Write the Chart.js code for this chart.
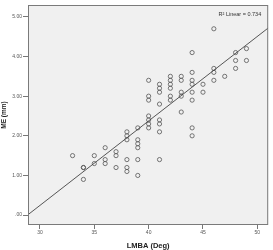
<!DOCTYPE html>
<html lang="en">
<head>
    <meta charset="UTF-8">
    <title>ME vs LMBA</title>
    <script src="https://cdn.jsdelivr.net/npm/chart.js"></script>
    <style>
        body {
            margin: 0;
            padding: 0;
            background: white;
        }

        .wrap {
            width: 273px;
            height: 250px;
        }
    </style>
</head>
<body>

    <div class="wrap">
        <canvas id="scatterChart"></canvas>
    </div>

    <script>
        // LMBA (Deg) for each case, with matching ME (mm)
        const lmba = [
            33,
            34, 34, 34,
            35, 35,
            36, 36, 36,
            37, 37, 37,
            38, 38, 38, 38, 38, 38,
            39, 39, 39, 39, 39, 39,
            40, 40, 40, 40, 40, 40, 40,
            41, 41, 41, 41, 41, 41, 41, 41,
            42, 42, 42, 42, 42, 42,
            43, 43, 43, 43, 43,
            44, 44, 44, 44, 44, 44, 44, 44,
            45, 45,
            46, 46, 46, 46,
            47,
            48, 48, 48,
            49, 49
        ];
        const me = [
            1.5,
            1.2, 1.2, 0.9,
            1.5, 1.3,
            1.7, 1.4, 1.3,
            1.6, 1.5, 1.2,
            2.1, 2.0, 1.9, 1.4, 1.2, 1.1,
            2.2, 1.9, 1.8, 1.7, 1.4, 1.0,
            3.4, 3.0, 2.9, 2.5, 2.4, 2.3, 2.2,
            3.3, 3.2, 3.1, 2.8, 2.4, 2.3, 2.1, 1.4,
            3.5, 3.4, 3.3, 3.2, 3.0, 2.9,
            3.5, 3.4, 3.1, 3.0, 2.6,
            4.1, 3.6, 3.4, 3.3, 3.1, 2.9, 2.2, 2.0,
            3.3, 3.1,
            4.7, 3.7, 3.6, 3.4,
            3.5,
            4.1, 3.9, 3.7,
            4.2, 3.9
        ];

        // fit line
        const fitX = [28.9, 51];
        const fitY = [0.01, 4.72];
        const rSquared = "0.734";

        const xTicks = [30, 35, 40, 45, 50];
        const yTicks = [0, 1, 2, 3, 4, 5];

        const points = lmba.map((x, i) => ({ x: x, y: me[i] }));
        const fitLine = fitX.map((x, i) => ({ x: x, y: fitY[i] }));

        // grey plot box with frame, plus the R2 note
        const plotBox = {
            id: "plotBox",
            beforeDatasetsDraw(chart) {
                const a = chart.chartArea;
                const ctx = chart.ctx;
                ctx.save();
                ctx.fillStyle = "#f0f0f0";
                ctx.fillRect(a.left, a.top, a.right - a.left, a.bottom - a.top);
                ctx.restore();
            },
            afterDatasetsDraw(chart) {
                const a = chart.chartArea;
                const ctx = chart.ctx;
                ctx.save();
                ctx.strokeStyle = "#7a7a7a";
                ctx.lineWidth = 1;
                ctx.strokeRect(a.left + 0.5, a.top + 0.5, a.right - a.left - 1, a.bottom - a.top - 1);
                ctx.fillStyle = "#333";
                ctx.font = "5.5px 'Liberation Sans', Arial, sans-serif";
                ctx.textAlign = "right";
                ctx.textBaseline = "middle";
                ctx.fillText("R\u00B2 Linear = " + rSquared, a.right - 7, a.top + 9);
                ctx.restore();
            }
        };

        new Chart(document.getElementById("scatterChart"), {
            type: "scatter",
            data: {
                datasets: [{
                    label: "ME",
                    data: points,
                    showLine: false,
                    pointRadius: 2.1,
                    pointBorderWidth: 0.8,
                    pointBorderColor: "#555",
                    pointBackgroundColor: "rgba(0,0,0,0)",
                    order: 2
                }, {
                    label: "Linear",
                    data: fitLine,
                    showLine: true,
                    borderColor: "#444",
                    borderWidth: 0.9,
                    pointRadius: 0,
                    order: 1
                }]
            },
            options: {
                responsive: true,
                maintainAspectRatio: false,
                animation: false,
                layout: {
                    padding: { top: 5, right: 4, left: 0, bottom: 0 }
                },
                plugins: {
                    legend: { display: false },
                    tooltip: { enabled: false }
                },
                scales: {
                    x: {
                        type: "linear",
                        min: 28.9,
                        max: 51,
                        afterBuildTicks: s => { s.ticks = xTicks.map(v => ({ value: v })); },
                        afterFit: s => { s.height = 25; },
                        grid: {
                            drawOnChartArea: false,
                            drawTicks: true,
                            tickLength: 4,
                            color: "#777"
                        },
                        border: { display: false },
                        ticks: {
                            padding: 1,
                            color: "#555",
                            font: { size: 5, family: "'Liberation Sans', Arial, sans-serif" }
                        },
                        title: {
                            display: true,
                            text: "LMBA (Deg)",
                            color: "#222",
                            padding: { top: 2, bottom: 0 },
                            font: { size: 7.5, weight: "bold", family: "'Liberation Sans', Arial, sans-serif" }
                        }
                    },
                    y: {
                        type: "linear",
                        min: -0.25,
                        max: 5.3,
                        afterBuildTicks: s => { s.ticks = yTicks.map(v => ({ value: v })); },
                        afterFit: s => { s.width = 28; },
                        grid: {
                            drawOnChartArea: false,
                            drawTicks: true,
                            tickLength: 5,
                            color: "#777"
                        },
                        border: { display: false },
                        ticks: {
                            padding: 1,
                            color: "#555",
                            font: { size: 5, family: "'Liberation Sans', Arial, sans-serif" },
                            callback: v => v === 0 ? ".00" : v.toFixed(2)
                        },
                        title: {
                            display: true,
                            text: "ME (mm)",
                            color: "#222",
                            padding: { top: 0, bottom: 0 },
                            font: { size: 6.5, weight: "bold", family: "'Liberation Sans', Arial, sans-serif" }
                        }
                    }
                }
            },
            plugins: [plotBox]
        });
    </script>

</body>
</html>
